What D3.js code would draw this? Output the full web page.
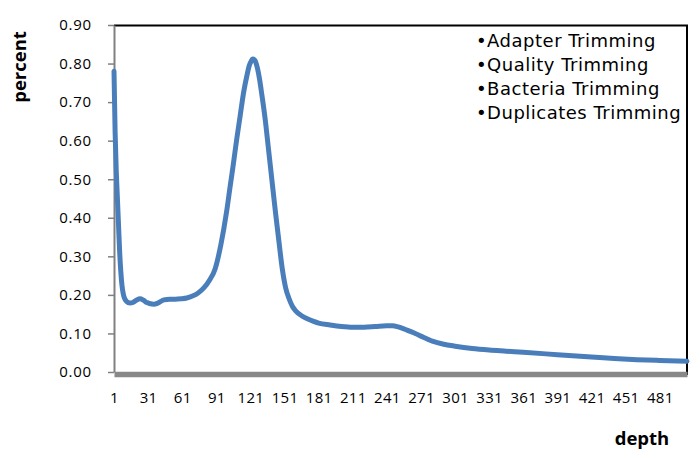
<!DOCTYPE html>
<html>
<head>
<meta charset="utf-8">
<script src="https://cdn.jsdelivr.net/npm/d3@7"></script>
<style>
  html, body { margin: 0; padding: 0; background: #fff; }
  svg { display: block; }
  text { font-family: "Open Sans", "Noto Sans", sans-serif; fill: #000; }
</style>
</head>
<body>
<svg id="chart" width="700" height="458"></svg>
<script>
// ---- data ----
const depth = [1,2,3,4,5,6,7,8,9,10,12,15,18,21,24,27,30,33,36,39,42,45,50,55,60,65,70,75,80,85,90,95,100,103,106,109,112,115,118,120,122,123,125,127,129,131,134,137,140,143,146,149,152,155,158,161,166,171,176,181,191,201,211,221,231,241,246,251,256,261,266,271,281,291,301,316,331,346,361,381,401,421,441,461,481,505];
const percent = [0.78,0.62,0.52,0.45,0.38,0.31,0.26,0.225,0.205,0.193,0.183,0.179,0.181,0.187,0.190,0.186,0.180,0.177,0.176,0.178,0.183,0.187,0.189,0.189,0.190,0.192,0.197,0.205,0.218,0.238,0.268,0.330,0.415,0.478,0.540,0.605,0.665,0.725,0.770,0.795,0.808,0.812,0.808,0.790,0.760,0.720,0.655,0.575,0.495,0.415,0.340,0.268,0.218,0.190,0.170,0.158,0.146,0.138,0.132,0.127,0.122,0.118,0.116,0.116,0.118,0.120,0.120,0.117,0.112,0.106,0.100,0.093,0.080,0.072,0.067,0.061,0.057,0.054,0.051,0.047,0.043,0.039,0.035,0.032,0.030,0.028];
const xTicks = [1,31,61,91,121,151,181,211,241,271,301,331,361,391,421,451,481];
const yTicks = [0,0.1,0.2,0.3,0.4,0.5,0.6,0.7,0.8,0.9];
const legendItems = ["\u2022Adapter Trimming","\u2022Quality Trimming","\u2022Bacteria Trimming","\u2022Duplicates Trimming"];
const xTitle = "depth", yTitle = "percent";

// ---- layout ----
const svg = d3.select("#chart");
const L = 114, R = 687, T = 25, B = 372;
const x = d3.scaleLinear().domain([1, 505]).range([L, R]);
const y = d3.scaleLinear().domain([0, 0.9]).range([B, T]);

// top and right borders (black)
svg.append("line").attr("x1", L).attr("x2", R + 1).attr("y1", T + 0.5).attr("y2", T + 0.5)
  .attr("stroke", "#000").attr("stroke-width", 2);
svg.append("line").attr("x1", R).attr("x2", R).attr("y1", T).attr("y2", B + 3)
  .attr("stroke", "#000").attr("stroke-width", 2);

// left axis
const yAxis = svg.append("g").attr("transform", `translate(${L},0)`)
  .call(d3.axisLeft(y).tickValues(yTicks).tickFormat(d3.format(".2f")).tickSize(6).tickPadding(16).tickSizeOuter(0));
yAxis.select(".domain").attr("stroke", "#808080").attr("stroke-width", 2);
yAxis.selectAll(".tick line").attr("stroke", "#808080").attr("stroke-width", 1.5);
yAxis.selectAll("text").style("font-size", "15px").style("letter-spacing", "0.8px").attr("fill", "#111");

// line
const line = d3.line().x((d, i) => x(depth[i])).y(d => y(d)).curve(d3.curveMonotoneX);
svg.append("path").datum(percent).attr("d", line)
  .attr("fill", "none").attr("stroke", "#4A7EBB").attr("stroke-width", 5)
  .attr("stroke-linejoin", "round").attr("stroke-linecap", "round");

// bottom axis
const xAxis = svg.append("g").attr("transform", `translate(0,${B + 2})`)
  .call(d3.axisBottom(x).tickValues(xTicks).tickFormat(d3.format("d")).tickSize(0).tickPadding(18).tickSizeOuter(0));
xAxis.select(".domain").attr("stroke", "#888").attr("stroke-width", 5.5);
xAxis.selectAll("text").style("font-size", "15px").style("letter-spacing", "0.3px").attr("fill", "#111");

// axis titles
svg.append("text").attr("transform", "translate(26,67) rotate(-90)")
  .attr("text-anchor", "middle").style("font-size", "18.5px").style("font-weight", "bold").text(yTitle);
svg.append("text").attr("x", 642).attr("y", 445)
  .attr("text-anchor", "middle").style("font-size", "18.5px").style("font-weight", "bold").text(xTitle);

// legend text
svg.append("g").selectAll("text").data(legendItems).join("text")
  .attr("x", 476).attr("y", (d, i) => 47 + i * 23.9)
  .style("font-family", "'DejaVu Sans', sans-serif")
  .style("font-size", "18px").style("letter-spacing", "0.5px").text(d => d);
</script>
</body>
</html>
